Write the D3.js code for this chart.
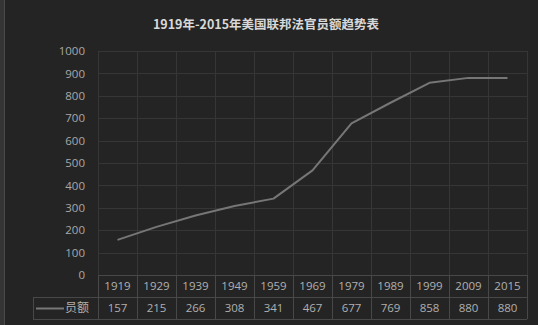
<!DOCTYPE html>
<html>
<head>
<meta charset="utf-8">
<script src="https://cdn.jsdelivr.net/npm/d3@7"></script>
<style>
  html, body { margin: 0; padding: 0; background: #242424; }
  svg { display: block; }
  text { font-family: "Noto Sans CJK SC", "Open Sans", sans-serif; }
</style>
</head>
<body>
<svg id="chart" width="538" height="325"></svg>
<script>
// Judgeships by year
const years = ["1919", "1929", "1939", "1949", "1959", "1969", "1979", "1989", "1999", "2009", "2015"];
const judges = [157, 215, 266, 308, 341, 467, 677, 769, 858, 880, 880];
const yTicks = [0, 100, 200, 300, 400, 500, 600, 700, 800, 900, 1000];
const titleText = "1919年-2015年美国联邦法官员额趋势表";
const seriesName = "员额";

const W = 538, H = 325;
const plotLeft = 98, plotRight = 527, plotTop = 51, plotBottom = 275;
const rowH = 22;
const legendLeft = 33;

const svg = d3.select("#chart");

// background and left edge strip
svg.append("rect").attr("width", W).attr("height", H).attr("fill", "#242424");
svg.append("rect").attr("x", 0).attr("y", 0).attr("width", 4).attr("height", H).attr("fill", "#353535");
svg.append("rect").attr("x", 4).attr("y", 0).attr("width", 1).attr("height", H).attr("fill", "#4a4a4a");

const x = d3.scaleBand().domain(years).range([plotLeft, plotRight]);
const y = d3.scaleLinear().domain([0, 1000]).range([plotBottom, plotTop]);

const gridColor = "#363636";

// horizontal gridlines
svg.append("g").selectAll("line").data(yTicks).join("line")
  .attr("x1", plotLeft).attr("x2", plotRight)
  .attr("y1", d => Math.round(y(d)) + 0.5).attr("y2", d => Math.round(y(d)) + 0.5)
  .attr("stroke", gridColor).attr("stroke-width", 1);

// vertical gridlines at category boundaries
const bounds = years.map(d => x(d)).concat([plotRight]);
svg.append("g").selectAll("line").data(bounds).join("line")
  .attr("x1", d => Math.round(d) + 0.5).attr("x2", d => Math.round(d) + 0.5)
  .attr("y1", plotTop).attr("y2", plotBottom)
  .attr("stroke", gridColor).attr("stroke-width", 1);

// y axis labels
const yAxis = d3.axisLeft(y).tickValues(yTicks).tickFormat(d3.format("d")).tickSize(0).tickPadding(0);
const gy = svg.append("g").attr("transform", `translate(${85},0)`).call(yAxis);
gy.select(".domain").remove();
gy.selectAll("text").attr("fill", "#a8a8a8").style("font-size", "11.5px")
  .style("font-family", "'Open Sans', sans-serif");

// data table
const tableColor = "#484848";
const tbl = svg.append("g");
const tTop = plotBottom, tMid = plotBottom + rowH, tBot = plotBottom + rowH * 2;
[[plotLeft, tTop, plotRight, tTop], [legendLeft, tMid, plotRight, tMid], [legendLeft, tBot, plotRight, tBot]]
  .forEach(s => {
    tbl.append("line").attr("x1", s[0]).attr("y1", s[1] + 0.5).attr("x2", s[2]).attr("y2", s[3] + 0.5)
      .attr("stroke", tableColor);
  });
tbl.append("line").attr("x1", legendLeft + 0.5).attr("x2", legendLeft + 0.5)
  .attr("y1", tMid).attr("y2", tBot).attr("stroke", tableColor);
tbl.selectAll("line.col").data(bounds).join("line").attr("class", "col")
  .attr("x1", d => Math.round(d) + 0.5).attr("x2", d => Math.round(d) + 0.5)
  .attr("y1", tTop).attr("y2", tBot)
  .attr("stroke", tableColor);

tbl.selectAll("text.yr").data(years).join("text").attr("class", "yr")
  .attr("x", d => x(d) + x.bandwidth() / 2).attr("y", tTop + rowH / 2 + 4)
  .attr("text-anchor", "middle").attr("fill", "#b0b0b0")
  .style("font-size", "11.5px").style("font-family", "'Open Sans', sans-serif")
  .text(d => d);
tbl.selectAll("text.val").data(judges).join("text").attr("class", "val")
  .attr("x", (d, i) => x(years[i]) + x.bandwidth() / 2).attr("y", tMid + rowH / 2 + 4)
  .attr("text-anchor", "middle").attr("fill", "#b0b0b0")
  .style("font-size", "11.5px").style("font-family", "'Open Sans', sans-serif")
  .text(d => d);

// legend key in the table
tbl.append("line").attr("x1", legendLeft + 3).attr("x2", legendLeft + 31)
  .attr("y1", tMid + rowH / 2 + 0.5).attr("y2", tMid + rowH / 2 + 0.5)
  .attr("stroke", "#777").attr("stroke-width", 2);
tbl.append("text").attr("x", legendLeft + 32).attr("y", tMid + rowH / 2 + 4)
  .attr("fill", "#b0b0b0").style("font-size", "12px").text(seriesName);

// series line
const line = d3.line().x((d, i) => x(years[i]) + x.bandwidth() / 2).y(d => y(d));
svg.append("path").datum(judges).attr("d", line)
  .attr("fill", "none").attr("stroke", "#767676").attr("stroke-width", 2)
  .attr("stroke-linejoin", "round");

// title
svg.append("text").attr("x", 266).attr("y", 29).attr("text-anchor", "middle")
  .attr("fill", "#d8d8d8").style("font-size", "12.5px").style("font-weight", "bold")
  .text(titleText);
</script>
</body>
</html>
